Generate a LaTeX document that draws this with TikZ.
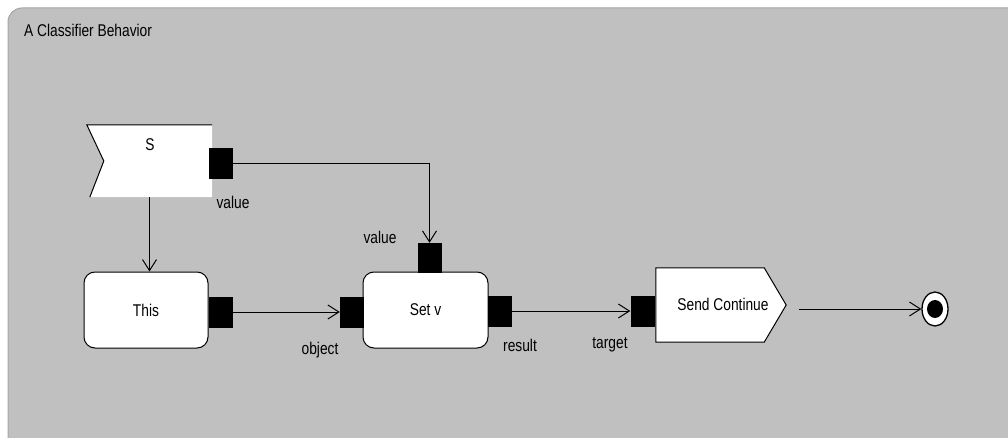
\documentclass[tikz,border=0pt]{standalone}
\usepackage{fontspec}
\setmainfont{Liberation Sans}[FakeStretch=0.81]
\usetikzlibrary{arrows.meta,shapes.geometric}
\definecolor{framefill}{RGB}{192,192,192}
\definecolor{frameline}{RGB}{165,165,165}
\begin{document}
\begin{tikzpicture}[x=1pt,y=-1pt, font=\fontsize{17}{20}\selectfont,
  pinbox/.style={fill=black, draw=none, minimum width=24pt, minimum height=31pt, inner sep=0pt},
  act/.style={draw, fill=white, rounded corners=11pt, minimum width=124pt, minimum height=76pt, line width=1pt},
  arr/.style={-{Straight Barb[length=11pt,width=14pt]}, line width=1pt},
  lbl/.style={inner sep=0pt}]
\useasboundingbox (0,0) rectangle (1008,438);
\fill[white] (0,0) rectangle (1008,438);
\draw[fill=framefill, draw=frameline, line width=1pt, rounded corners=14pt] (8,8) rectangle (1030,460);
\node[lbl, anchor=west] (title) at (24,30) {A Classifier Behavior};
% accept event S
\node[minimum width=125pt, minimum height=72pt, inner sep=0pt] (S) at (149.5,161) {};
\fill[white] (S.north west) -- (S.north east) -- (S.south east) -- ([xshift=3pt]S.south west) -- ([xshift=17pt]S.west) -- cycle;
\draw[line width=1pt] ([xshift=3pt]S.south west) -- ([xshift=17pt]S.west) -- (S.north west) -- (S.north east);
\node[lbl] (Slabel) at (150,145) {S};
\node[pinbox] (pS) at (220.5,164) {};
\node[lbl] (lvS) at (233,202) {value};
% actions
\node[act] (This) at (146,310) {This};
\node[pinbox] (pThis) at (220.5,312) {};
\node[act, minimum width=125pt] (Setv) at (425.5,310) {Set v};
\node[pinbox] (pObj) at (352,312) {};
\node[pinbox, minimum height=30pt] (pVal) at (429.5,258) {};
\node[pinbox] (pRes) at (500,311) {};
\node[lbl] (lObj) at (320,350) {object};
\node[lbl] (lVal) at (380,237) {value};
\node[lbl] (lRes) at (520,345) {result};
% send signal
\node[minimum width=130pt, minimum height=74pt, inner sep=0pt] (SC) at (721,305) {};
\draw[fill=white, line width=1pt] (SC.north west) -- ([xshift=-22pt]SC.north east) -- (SC.east) -- ([xshift=-22pt]SC.south east) -- (SC.south west) -- cycle;
\node[lbl] (SCl) at (723,304) {Send Continue};
\node[pinbox] (pTgt) at (642.5,311) {};
\node[lbl] (lTgt) at (610,345) {target};
% final node
\node[draw, fill=white, ellipse, line width=1.3pt, minimum width=26pt, minimum height=34pt, inner sep=0pt] (F) at (935,309) {};
\fill[black] (F.center) ellipse [x radius=8pt, y radius=9pt];
% edges
\draw[arr] (pS.east) -| (pVal.north);
\draw[arr] (S.south) -- (S.south |- This.north);
\draw[arr] (pThis.east) -- (pObj.west);
\draw[arr] (pRes.east) -- (pTgt.west);
\draw[arr, shorten <=13pt] (SC.east |- F.west) -- (F.west);
\end{tikzpicture}
\end{document}
